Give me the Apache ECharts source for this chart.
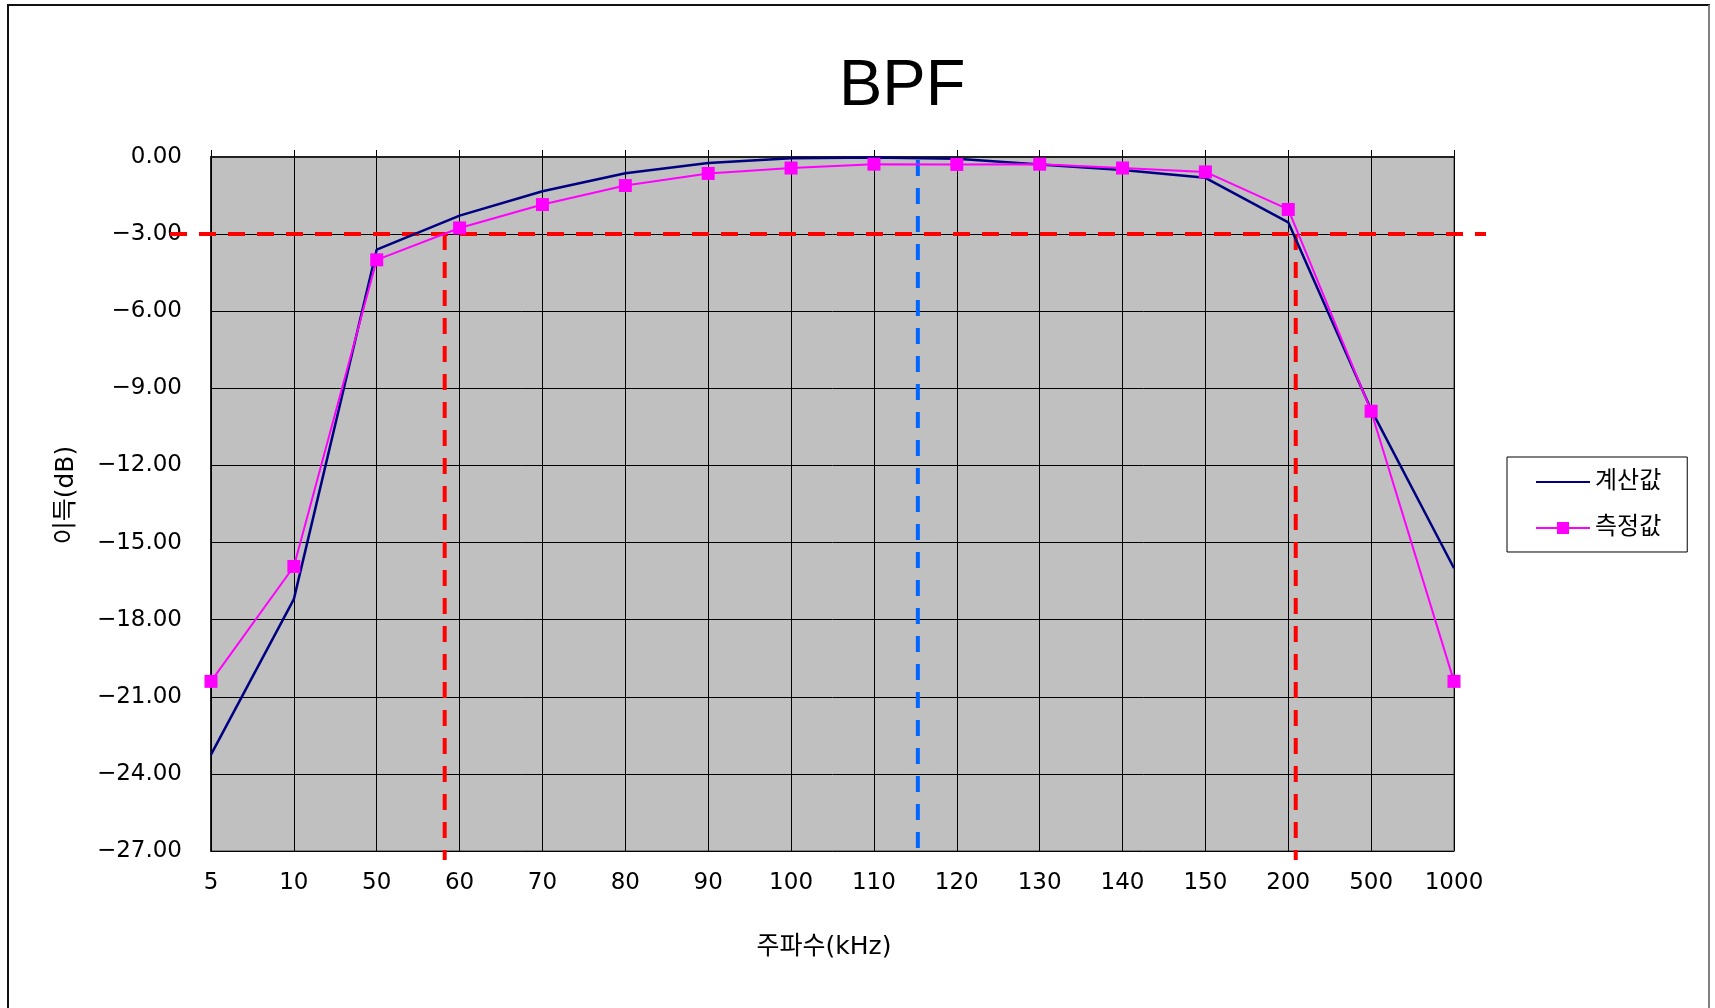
<!DOCTYPE html>
<html>
<head>
<meta charset="utf-8">
<title>BPF</title>
<script src="https://cdn.jsdelivr.net/npm/echarts@6/dist/echarts.min.js"></script>
<style>
  html, body { margin: 0; padding: 0; background: #fff; }
  #chart { width: 1715px; height: 1008px; }
</style>
</head>
<body>
<div id="chart"></div>
<script>
// 주파수 (kHz) - category axis, not evenly spaced in value
const freqs = ['5', '10', '50', '60', '70', '80', '90', '100', '110', '120', '130', '140', '150', '200', '500', '1000']
// 계산값 (dB)
const calcGain = [-23.25, -17.2, -3.6, -2.28, -1.33, -0.63, -0.23, -0.05, -0.02, -0.07, -0.29, -0.51, -0.81, -2.54, -9.83, -16.0]
// 측정값 (dB)
const measGain = [-20.4, -15.93, -4.0, -2.76, -1.85, -1.11, -0.64, -0.43, -0.28, -0.29, -0.28, -0.43, -0.58, -2.04, -9.89, -20.4]

// helper lines, x in category-index units (0 = 5kHz ... 15 = 1000kHz)
const cutoffDb = -3
const lowCutIdx = 2.82
const highCutIdx = 13.09
const centerIdx = 8.53
// the dashed guides run a bit past the plot area
const guideXMin = -0.4948
const guideXMax = 15.386
const guideYMax = 0.2723
const guideYMin = -27.3501

const font = 'DejaVu Sans, "Noto Sans CJK KR", sans-serif'

const chart = echarts.init(document.getElementById('chart'))

const dashRedH = { color: '#ff0000', width: 4, type: [17, 12] }
const dashRed = { color: '#ff0000', width: 4, type: [16, 12] }
const dashBlue = { color: '#0066ff', width: 4, type: [16, 12] }

function guide(points, style) {
  return {
    type: 'line',
    xAxisIndex: 2,
    yAxisIndex: 1,
    data: points,
    symbol: 'none',
    clip: false,
    silent: true,
    lineStyle: style,
    z: 1,
  }
}

chart.setOption({
  animation: false,
  textStyle: { fontFamily: font },
  title: {
    text: 'BPF',
    left: 834,
    top: 50,
    textStyle: {
      fontFamily: 'Liberation Sans, Arial, sans-serif',
      fontSize: 65,
      fontWeight: 'normal',
      color: '#000',
    },
  },
  legend: {
    data: [
      { name: '계산값', itemStyle: { opacity: 0 } },
      { name: '측정값' },
    ],
    orient: 'vertical',
    left: 1507,
    top: 457,
    padding: [13, 26, 12, 28],
    itemGap: 22,
    itemWidth: 54,
    itemHeight: 15,
    backgroundColor: '#fff',
    borderColor: '#000',
    borderWidth: 1,
    borderRadius: 0,
    textStyle: { fontSize: 24, color: '#000', fontFamily: font },
  },
  graphic: [
    {
      type: 'rect',
      shape: { x: 8, y: 5, width: 1701, height: 1020 },
      style: { fill: 'none', stroke: '#111', lineWidth: 2 },
      silent: true,
    },
    {
      type: 'line',
      shape: { x1: 1709, y1: 5, x2: 1709, y2: 1008 },
      style: { stroke: '#808080', lineWidth: 2 },
      silent: true,
    },
  ],
  grid: [
    {
      left: 211,
      right: 261,
      top: 157,
      bottom: 157,
      show: true,
      backgroundColor: '#c0c0c0',
      borderColor: '#808080',
      borderWidth: 2,
    },
    // overlay grid for the dashed guides, same scale as the plot
    { left: 170, right: 229, top: 150, bottom: 148 },
  ],
  xAxis: [
    {
      type: 'category',
      data: freqs,
      boundaryGap: false,
      position: 'bottom',
      name: '주파수(kHz)',
      nameLocation: 'middle',
      nameGap: 84,
      nameTextStyle: { fontSize: 25, color: '#000', padding: [0, 17, 0, 0] },
      axisLine: { show: false },
      axisTick: { show: false },
      axisLabel: { interval: 0, fontSize: 23, color: '#000', margin: 21 },
      splitLine: { show: true, interval: 0, lineStyle: { color: '#000', width: 1 } },
    },
    {
      type: 'category',
      data: freqs,
      boundaryGap: false,
      position: 'top',
      axisLine: { show: true, lineStyle: { color: '#222', width: 2 } },
      axisTick: { show: true, interval: 0, length: 7, lineStyle: { color: '#000', width: 1 } },
      axisLabel: { show: false },
      splitLine: { show: false },
    },
    {
      type: 'value',
      gridIndex: 1,
      min: guideXMin,
      max: guideXMax,
      show: false,
    },
  ],
  yAxis: [
    {
      type: 'value',
      min: -27,
      max: 0,
      interval: 3,
      name: '이득(dB)',
      nameLocation: 'middle',
      nameGap: 132,
      nameTextStyle: { fontSize: 25, color: '#000', padding: [0, 0, 0, 18] },
      axisLine: { show: true, lineStyle: { color: '#000', width: 1.5 } },
      axisTick: { show: false },
      axisLabel: {
        fontSize: 23,
        color: '#000',
        margin: 29,
        formatter: (v) => (v < 0 ? '\u2212' : '') + Math.abs(v).toFixed(2),
      },
      splitLine: { show: true, lineStyle: { color: '#000', width: 1 } },
    },
    {
      type: 'value',
      gridIndex: 1,
      min: guideYMin,
      max: guideYMax,
      show: false,
    },
  ],
  series: [
    guide([[guideXMin, cutoffDb], [guideXMax, cutoffDb]], dashRedH),
    guide([[lowCutIdx, cutoffDb], [lowCutIdx, guideYMin]], dashRed),
    guide([[highCutIdx, cutoffDb], [highCutIdx, guideYMin]], dashRed),
    guide([[centerIdx, -0.12], [centerIdx, -26.9]], dashBlue),
    {
      name: '계산값',
      type: 'line',
      data: calcGain,
      symbol: 'none',
      lineStyle: { color: '#000080', width: 2.5 },
      itemStyle: { color: '#000080' },
      z: 3,
    },
    {
      name: '측정값',
      type: 'line',
      data: measGain,
      symbol: 'rect',
      symbolSize: 13,
      lineStyle: { color: '#ff00ff', width: 2 },
      itemStyle: { color: '#ff00ff' },
      z: 4,
    },
  ],
})
</script>
</body>
</html>
